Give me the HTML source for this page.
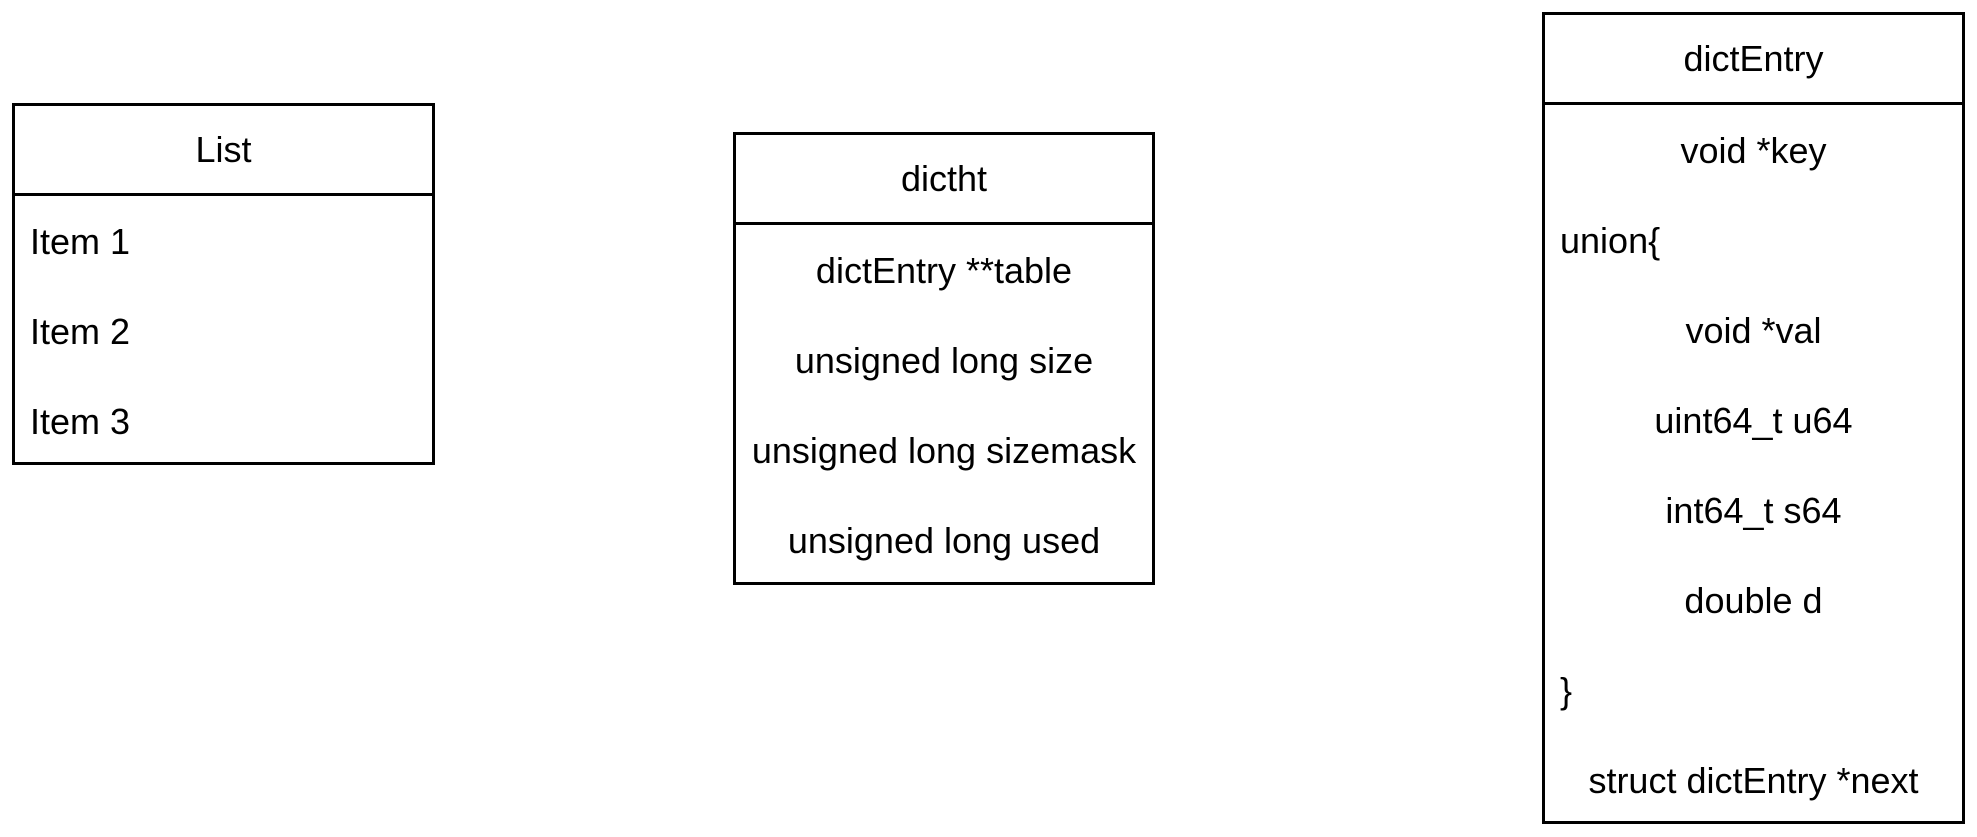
<!DOCTYPE html>
<html><head><meta charset="utf-8"><style>
body{margin:0;width:1977px;height:837px;background:#fff;position:relative;overflow:hidden;font-family:"Liberation Sans",Arial,sans-serif;font-size:36px;color:#000}
.b{position:absolute;border:3px solid #000;box-sizing:border-box}
.r{position:absolute;left:0;right:0;height:90px;line-height:92px;text-align:center;white-space:nowrap}
.l{text-align:left;padding-left:15px}
.h{border-bottom:3px solid #000;box-sizing:border-box;height:92px}
</style></head><body>
<div class="b" style="left:12px;top:103px;width:423px;height:362px">
 <div class="r h" style="top:-2px">List</div>
 <div class="r l" style="top:90px">Item 1</div>
 <div class="r l" style="top:180px">Item 2</div>
 <div class="r l" style="top:270px">Item 3</div>
</div>
<div class="b" style="left:733px;top:132px;width:422px;height:453px">
 <div class="r h" style="top:-2px">dictht</div>
 <div class="r" style="top:90px">dictEntry **table</div>
 <div class="r" style="top:180px">unsigned long size</div>
 <div class="r" style="top:270px">unsigned long sizemask</div>
 <div class="r" style="top:360px">unsigned long used</div>
</div>
<div class="b" style="left:1542px;top:12px;width:423px;height:812px">
 <div class="r h" style="top:-2px">dictEntry</div>
 <div class="r" style="top:90px">void *key</div>
 <div class="r l" style="top:180px">union{</div>
 <div class="r" style="top:270px">void *val</div>
 <div class="r" style="top:360px">uint64_t u64</div>
 <div class="r" style="top:450px">int64_t s64</div>
 <div class="r" style="top:540px">double d</div>
 <div class="r l" style="top:630px">}</div>
 <div class="r" style="top:720px">struct dictEntry *next</div>
</div>
</body></html>
